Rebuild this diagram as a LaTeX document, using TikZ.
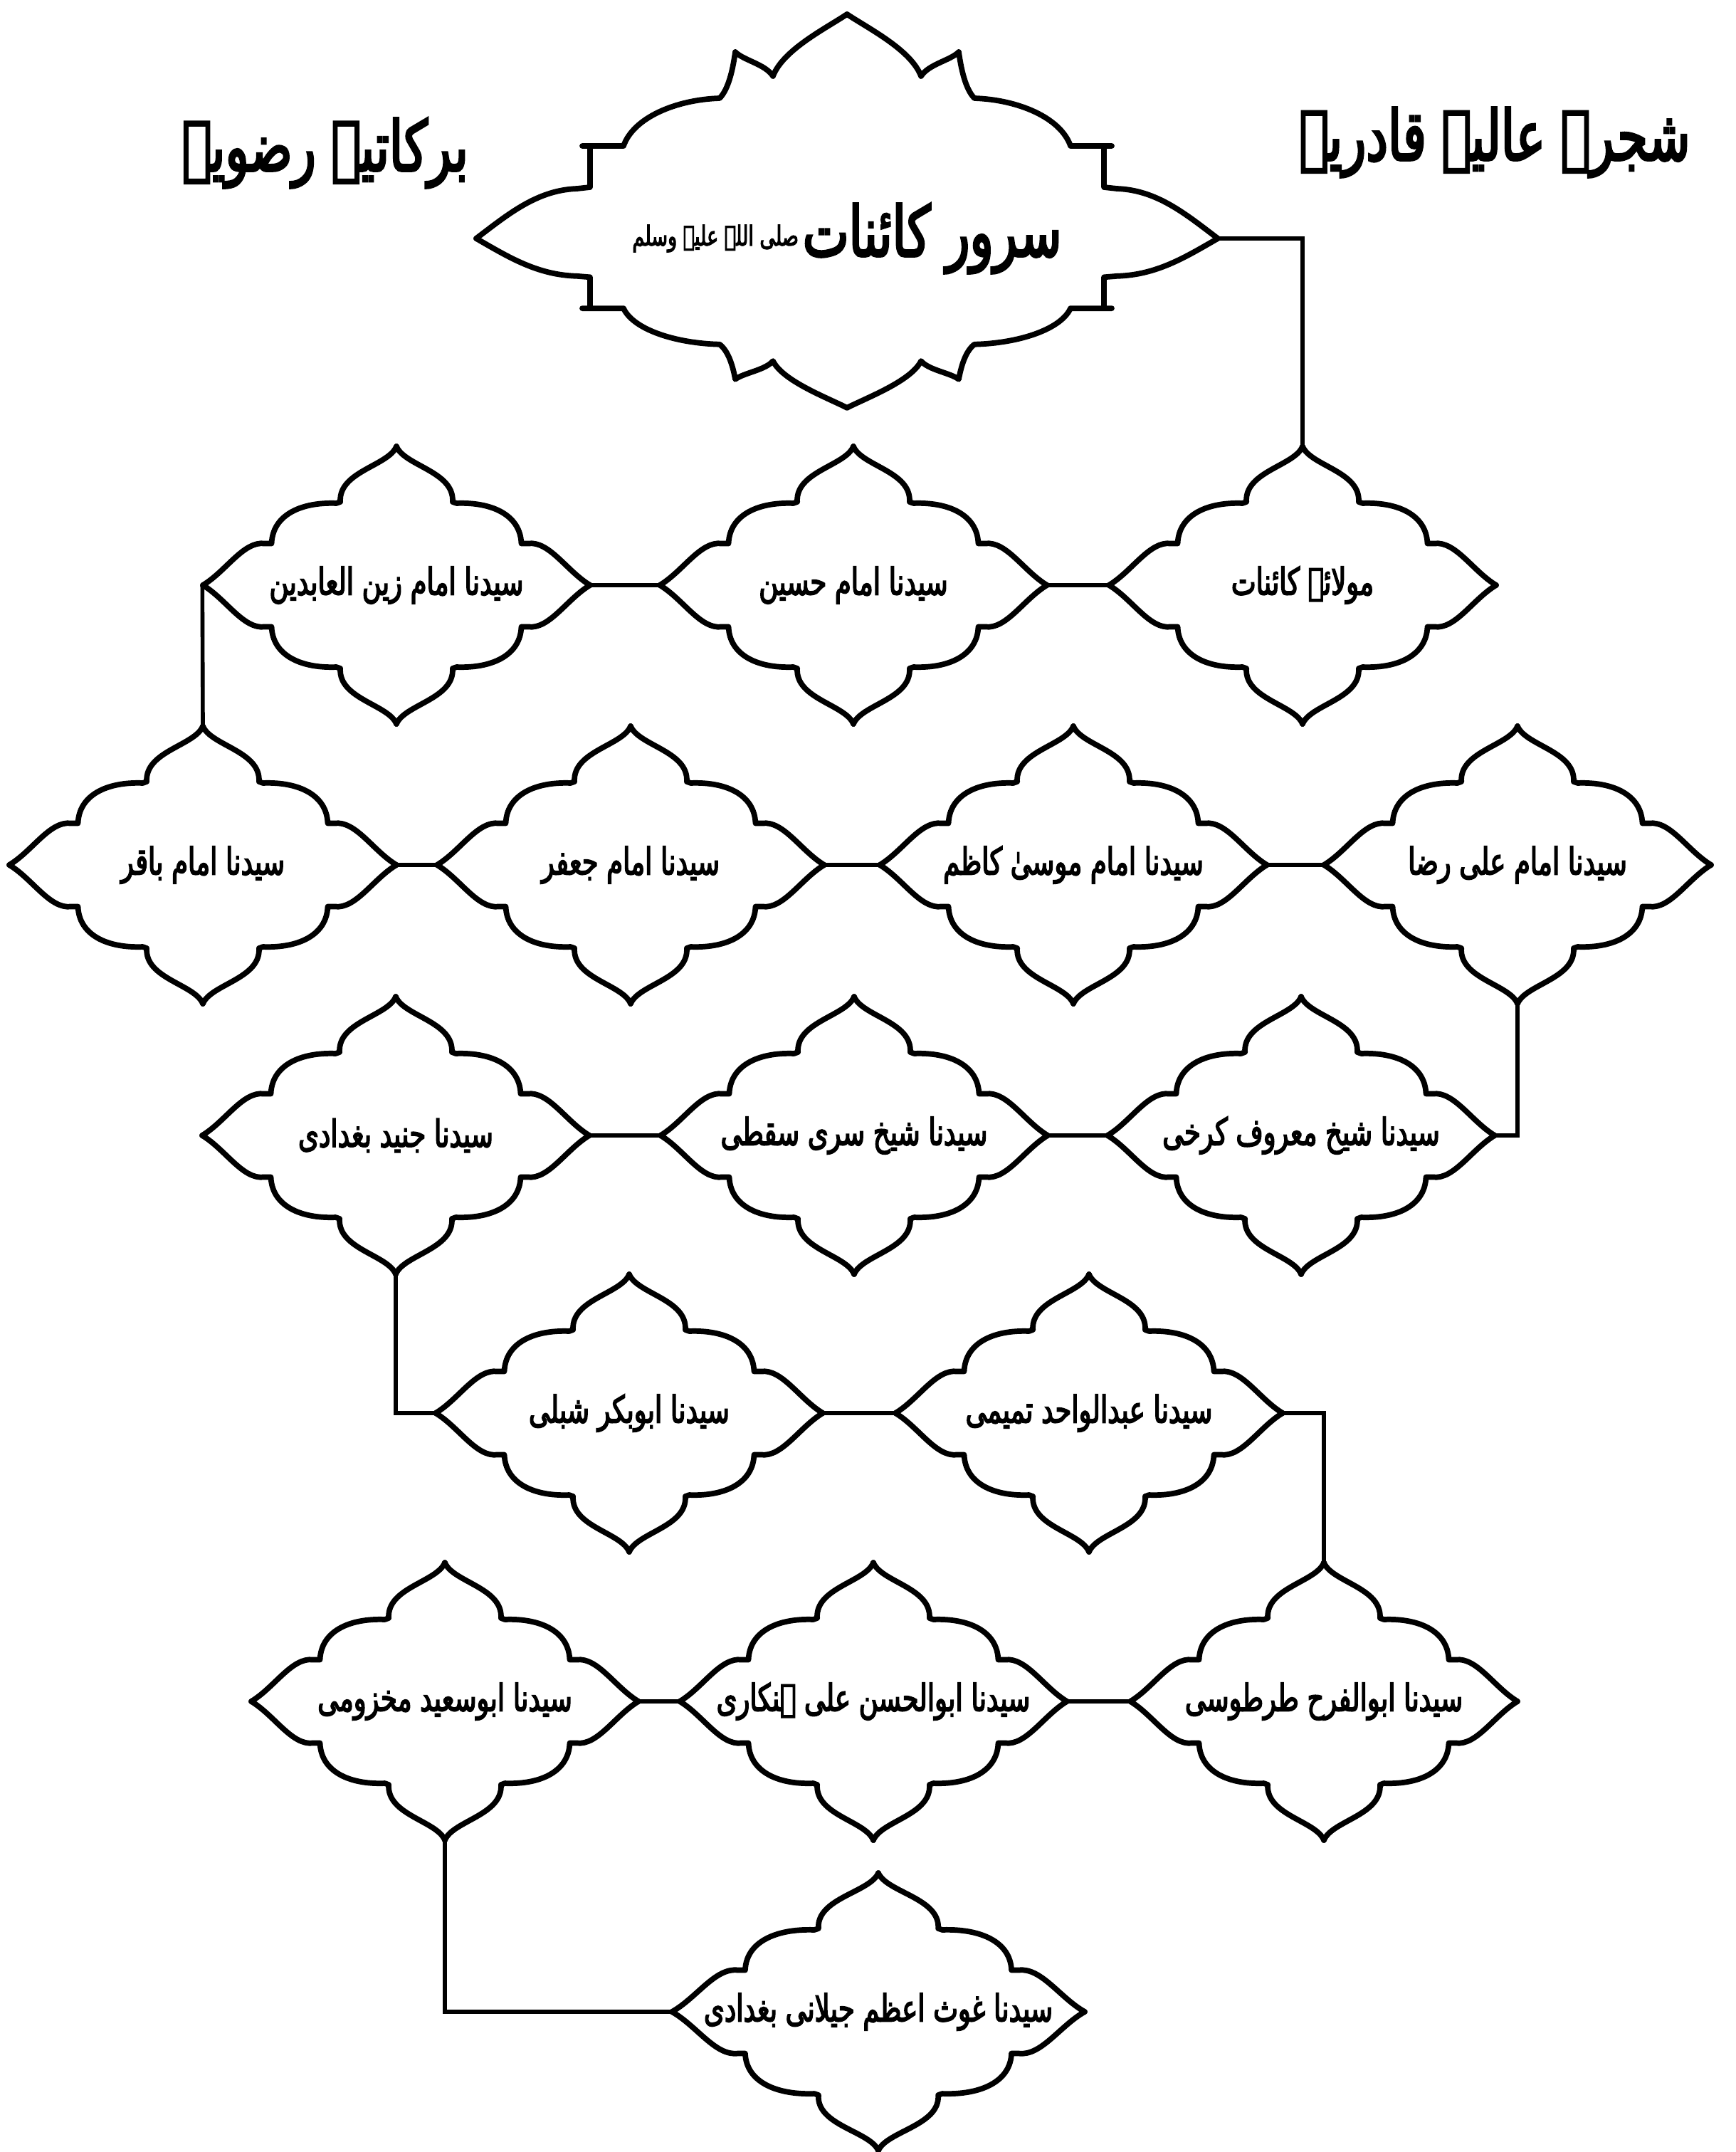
\documentclass[tikz,border=0pt]{standalone}
\usepackage{fontspec}
\newfontfamily\urdu[Script=Arabic, FakeStretch=0.7, FakeBold=3]{DejaVu Sans}
\TeXXeTstate=1
\newcommand{\urtext}[1]{\beginR #1\endR}

\begin{document}
\begin{tikzpicture}[
    outline/.style={line width=2.2pt, line join=round, line cap=round},
    link/.style={line width=1.6pt},
    saint/.style={minimum width=5.44cm, minimum height=3.9cm, inner sep=0pt,
                  font=\urdu\fontsize{15}{18}\selectfont},
    heading/.style={inner sep=0pt, font=\urdu\fontsize{28}{32}\selectfont},
    % one quarter of the medallion, mirrored four times
    medal/.pic={
        \foreach \sx/\sy in {1/1,-1/1,1/-1,-1/-1}
            \draw[outline, xscale=\sx, yscale=\sy]
                (0,1) .. controls (-0.04,0.86) and (-0.30,0.82) .. (-0.29,0.60)
                -- (-0.31,0.59) .. controls (-0.50,0.60) and (-0.64,0.50) .. (-0.645,0.30)
                -- (-0.68,0.30) .. controls (-0.79,0.32) and (-0.88,0.10) .. (-1,0);
    },
    cloud/.pic={
        \foreach \sx/\sy in {1/1,-1/1,1/-0.755,-1/-0.755}
            \draw[outline, xscale=\sx, yscale=\sy]
                (0,3.15) .. controls (-0.3,2.95) and (-0.9,2.65) .. (-1.04,2.28)
                .. controls (-1.15,2.45) and (-1.45,2.5) .. (-1.57,2.62)
                .. controls (-1.60,2.40) and (-1.66,2.10) .. (-1.79,1.97)
                .. controls (-2.40,1.95) and (-3.00,1.70) .. (-3.14,1.30)
                -- (-3.72,1.30) -- (-3.61,1.30) -- (-3.61,0.72) -- (-3.79,0.70)
                .. controls (-4.35,0.68) and (-4.75,0.35) .. (-5.21,0);
    },
]
    \useasboundingbox (0,0) rectangle (24.38,-30.23);

    % titles
    \node[heading] (t1) at (21.00,-2.00) {\urtext{شجرۂ عالیہ قادریہ}};
    \node[heading] (t2) at (4.57,-2.15) {\urtext{برکاتیہ رضویہ}};

    % top
    \node[inner sep=0pt, minimum width=10.42cm, minimum height=4cm, font=\urdu]
        (top) at (11.90,-3.35)
        {\urtext{{\fontsize{28}{32}\selectfont سرور کائنات}\,\raisebox{0.8ex}{\fontsize{11}{13}\selectfont صلی اللہ علیہ وسلم}}};

    % row 1
    \node[saint] (r1a) at (5.57,-8.22) {\urtext{سیدنا امام زین العابدین}};
    \node[saint] (r1b) at (11.99,-8.22) {\urtext{سیدنا امام حسین}};
    \node[saint] (r1c) at (18.30,-8.22) {\urtext{مولائے کائنات}};
    % row 2
    \node[saint] (r2a) at (2.85,-12.15) {\urtext{سیدنا امام باقر}};
    \node[saint] (r2b) at (8.86,-12.15) {\urtext{سیدنا امام جعفر}};
    \node[saint] (r2c) at (15.08,-12.15) {\urtext{سیدنا امام موسیٰ کاظم}};
    \node[saint] (r2d) at (21.32,-12.15) {\urtext{سیدنا امام علی رضا}};
    % row 3
    \node[saint] (r3a) at (5.56,-15.95) {\urtext{سیدنا جنید بغدادی}};
    \node[saint] (r3b) at (12.00,-15.95) {\urtext{سیدنا شیخ سری سقطی}};
    \node[saint] (r3c) at (18.28,-15.95) {\urtext{سیدنا شیخ معروف کرخی}};
    % row 4
    \node[saint] (r4a) at (8.84,-19.85) {\urtext{سیدنا ابوبکر شبلی}};
    \node[saint] (r4b) at (15.30,-19.85) {\urtext{سیدنا عبدالواحد تمیمی}};
    % row 5
    \node[saint] (r5a) at (6.25,-23.90) {\urtext{سیدنا ابوسعید مخزومی}};
    \node[saint] (r5b) at (12.27,-23.90) {\urtext{سیدنا ابوالحسن علی ہنکاری}};
    \node[saint] (r5c) at (18.60,-23.90) {\urtext{سیدنا ابوالفرح طرطوسی}};
    % row 6
    \node[saint, minimum width=5.8cm] (r6) at (12.34,-28.26) {\urtext{سیدنا غوث اعظم جیلانی بغدادی}};

    % outlines
    \pic at (top) {cloud};
    \foreach \n in {r1a,r1b,r1c,r2a,r2b,r2c,r2d,r3a,r3b,r3c,r4a,r4b,r5a,r5b,r5c}
        \pic[xscale=2.72, yscale=1.95] at (\n) {medal};
    \pic[xscale=2.9, yscale=1.95] at (r6) {medal};

    % connectors
    \draw[link] (top.east) -| (r1c.north);
    \draw[link] (r1c.west) -- (r1b.east);
    \draw[link] (r1b.west) -- (r1a.east);
    \draw[link] (r1a.west) -- (r2a.north);
    \draw[link] (r2a.east) -- (r2b.west);
    \draw[link] (r2b.east) -- (r2c.west);
    \draw[link] (r2c.east) -- (r2d.west);
    \draw[link] (r2d.south) |- (r3c.east);
    \draw[link] (r3c.west) -- (r3b.east);
    \draw[link] (r3b.west) -- (r3a.east);
    \draw[link] (r3a.south) |- (r4a.west);
    \draw[link] (r4a.east) -- (r4b.west);
    \draw[link] (r4b.east) -| (r5c.north);
    \draw[link] (r5c.west) -- (r5b.east);
    \draw[link] (r5b.west) -- (r5a.east);
    \draw[link] (r5a.south) |- (r6.west);
\end{tikzpicture}
\end{document}
